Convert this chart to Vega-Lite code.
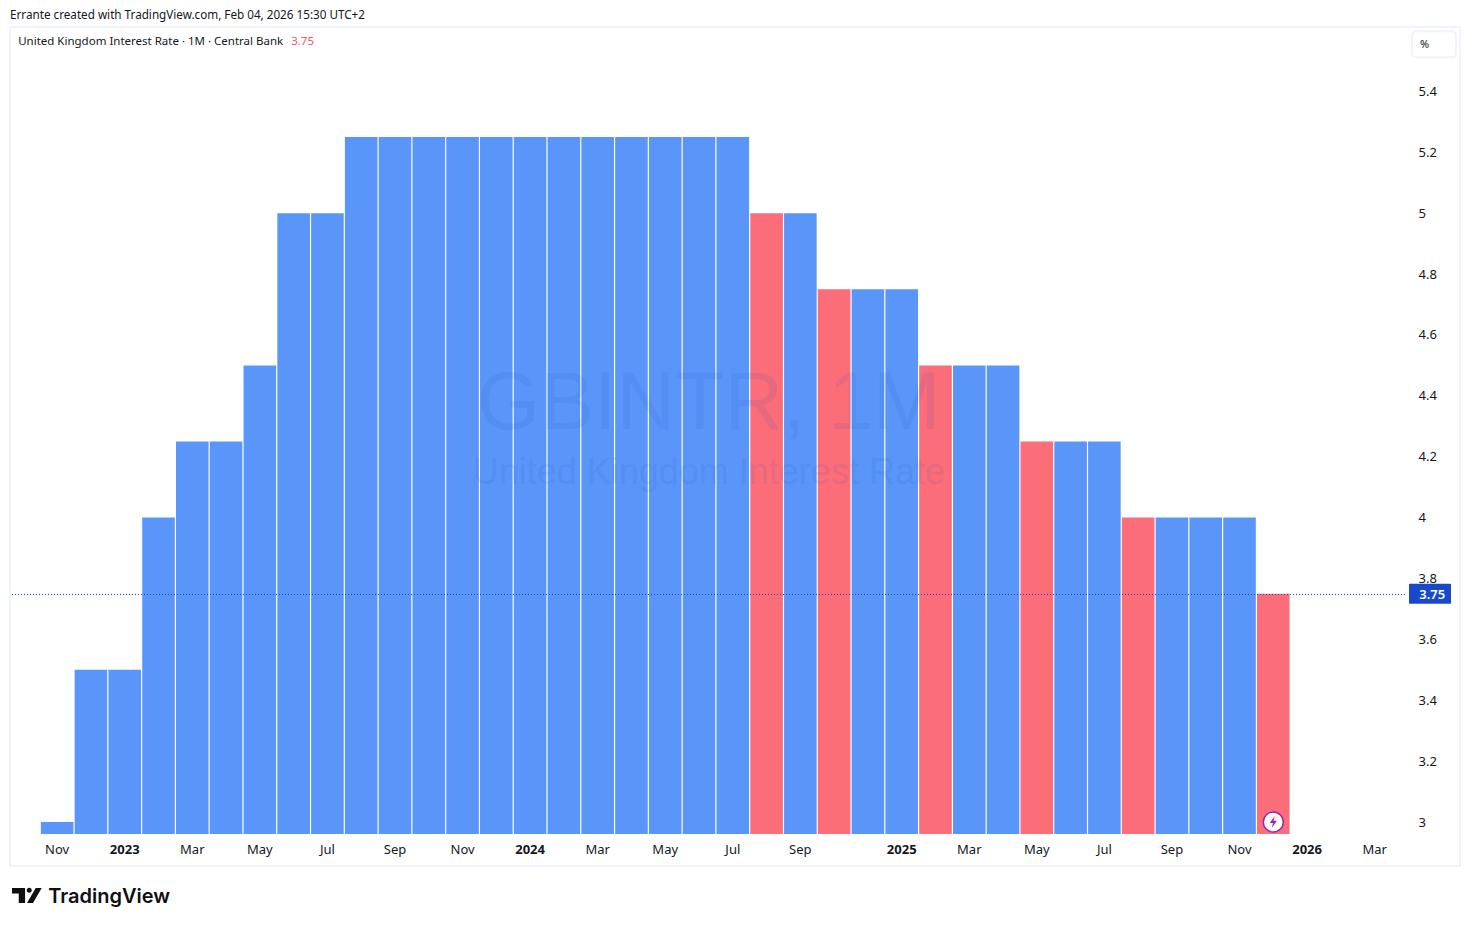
{
"$schema":"https://vega.github.io/schema/vega-lite/v6.json",
"width":1394,"height":807,
"autosize":{"type":"none"},
"padding":{"left":11,"top":27,"right":65,"bottom":92},
"background":"#ffffff",
"view":{"stroke":null},
"title":{"text":"Errante created with TradingView.com, Feb 04, 2026 15:30 UTC+2","anchor":"start","frame":"group","font":"Noto Sans","fontSize":11.7,"fontWeight":"normal","color":"#131722","dx":-1,"offset":4},
"layer":[
{"data":{"values":[{}]},"mark":{"type":"rect","fill":null,"stroke":"#f0f3fa","strokeWidth":2,"clip":false},
 "encoding":{"x":{"value":-1},"x2":{"value":1449},"y":{"value":0},"y2":{"value":839}}},
{"data":{"values":[
{"month":"2022-11","rate":3.0,"move":"hold"},
{"month":"2022-12","rate":3.5,"move":"hold"},
{"month":"2023-01","rate":3.5,"move":"hold"},
{"month":"2023-02","rate":4.0,"move":"hold"},
{"month":"2023-03","rate":4.25,"move":"hold"},
{"month":"2023-04","rate":4.25,"move":"hold"},
{"month":"2023-05","rate":4.5,"move":"hold"},
{"month":"2023-06","rate":5.0,"move":"hold"},
{"month":"2023-07","rate":5.0,"move":"hold"},
{"month":"2023-08","rate":5.25,"move":"hold"},
{"month":"2023-09","rate":5.25,"move":"hold"},
{"month":"2023-10","rate":5.25,"move":"hold"},
{"month":"2023-11","rate":5.25,"move":"hold"},
{"month":"2023-12","rate":5.25,"move":"hold"},
{"month":"2024-01","rate":5.25,"move":"hold"},
{"month":"2024-02","rate":5.25,"move":"hold"},
{"month":"2024-03","rate":5.25,"move":"hold"},
{"month":"2024-04","rate":5.25,"move":"hold"},
{"month":"2024-05","rate":5.25,"move":"hold"},
{"month":"2024-06","rate":5.25,"move":"hold"},
{"month":"2024-07","rate":5.25,"move":"hold"},
{"month":"2024-08","rate":5.0,"move":"cut"},
{"month":"2024-09","rate":5.0,"move":"hold"},
{"month":"2024-11","rate":4.75,"move":"cut"},
{"month":"2024-12","rate":4.75,"move":"hold"},
{"month":"2025-01","rate":4.75,"move":"hold"},
{"month":"2025-02","rate":4.5,"move":"cut"},
{"month":"2025-03","rate":4.5,"move":"hold"},
{"month":"2025-04","rate":4.5,"move":"hold"},
{"month":"2025-05","rate":4.25,"move":"cut"},
{"month":"2025-06","rate":4.25,"move":"hold"},
{"month":"2025-07","rate":4.25,"move":"hold"},
{"month":"2025-08","rate":4.0,"move":"cut"},
{"month":"2025-09","rate":4.0,"move":"hold"},
{"month":"2025-10","rate":4.0,"move":"hold"},
{"month":"2025-11","rate":4.0,"move":"hold"},
{"month":"2025-12","rate":3.75,"move":"cut"}
]},"mark":{"type":"bar","clip":true},
 "encoding":{
  "x":{"field":"month","type":"ordinal",
   "scale":{"domain":["2022-11","2022-12","2023-01","2023-02","2023-03","2023-04","2023-05","2023-06","2023-07","2023-08","2023-09","2023-10","2023-11","2023-12","2024-01","2024-02","2024-03","2024-04","2024-05","2024-06","2024-07","2024-08","2024-09","2024-11","2024-12","2025-01","2025-02","2025-03","2025-04","2025-05","2025-06","2025-07","2025-08","2025-09","2025-10","2025-11","2025-12","2026-01","2026-02","2026-03"],
    "paddingInner":0.035,"paddingOuter":0.65,"align":0.68},
   "axis":{"title":null,"orient":"bottom","ticks":false,"domain":false,"grid":false,"labelAngle":0,"labelPadding":9,"labelFont":"Noto Sans","labelFontSize":13,"labelColor":"#131722","labelOverlap":false,
    "values":["2022-11","2023-01","2023-03","2023-05","2023-07","2023-09","2023-11","2024-01","2024-03","2024-05","2024-07","2024-09","2025-01","2025-03","2025-05","2025-07","2025-09","2025-11","2026-01","2026-03"],
    "labelExpr":"slice(datum.value,5)=='01' ? slice(datum.value,0,4) : {'03':'Mar','05':'May','07':'Jul','09':'Sep','11':'Nov'}[slice(datum.value,5)]",
    "labelFontWeight":{"condition":{"test":"slice(datum.value,5)=='01'","value":"bold"},"value":"normal"}}},
  "y":{"field":"rate","type":"quantitative",
   "scale":{"domain":[2.9606,5.6117],"nice":false,"zero":false},
   "axis":{"title":null,"orient":"right","ticks":false,"domain":false,"grid":false,"labelPadding":13,"labelFont":"Noto Sans","labelFontSize":13,"labelColor":"#131722","format":"~g",
    "values":[3,3.2,3.4,3.6,3.8,4,4.2,4.4,4.6,4.8,5,5.2,5.4]}},
  "color":{"field":"move","type":"nominal","legend":null,"scale":{"domain":["hold","cut"],"range":["#5a95f9","#fb6d78"]}}
 }},
{"data":{"values":[{}]},"mark":{"type":"rule","color":"#1848cc","strokeWidth":1,"strokeDash":[1,2],"yOffset":0.8},
 "encoding":{"y":{"datum":3.75}}},
{"data":{"values":[{}]},"mark":{"type":"text","font":"Liberation Sans","fontSize":81,"color":"#2048d0","opacity":0.085,"align":"center","baseline":"middle","dx":-24},
 "encoding":{"x":{"datum":"2024-07","type":"ordinal"},"y":{"datum":4.37},"text":{"value":"GBINTR, 1M"}}},
{"data":{"values":[{}]},"mark":{"type":"text","font":"Liberation Sans","fontSize":36,"color":"#2048d0","opacity":0.085,"align":"center","baseline":"middle","dx":-24},
 "encoding":{"x":{"datum":"2024-07","type":"ordinal"},"y":{"datum":4.146},"text":{"value":"United Kingdom Interest Rate"}}},
{"data":{"values":[{}]},"mark":{"type":"rect","fill":"#1848cc","cornerRadius":1,"clip":false},
 "encoding":{"x":{"value":1398},"x2":{"value":1440},"y":{"datum":3.783},"y2":{"datum":3.717}}},
{"data":{"values":[{}]},"mark":{"type":"text","font":"Noto Sans","fontSize":13,"fontWeight":600,"color":"#ffffff","align":"center","baseline":"middle","dx":57.5,"dy":1},
 "encoding":{"x":{"datum":"2026-03","type":"ordinal"},"y":{"datum":3.75},"text":{"value":"3.75"}}},
{"data":{"values":[{}]},"mark":{"type":"rect","fill":"#ffffff","stroke":"#f0f3fa","strokeWidth":2,"cornerRadius":4,"clip":false},
 "encoding":{"x":{"value":1401},"x2":{"value":1445},"y":{"datum":5.598},"y2":{"datum":5.512}}},
{"data":{"values":[{}]},"mark":{"type":"text","font":"Noto Sans","fontSize":11,"color":"#131722","align":"center","baseline":"middle","dx":50},
 "encoding":{"x":{"datum":"2026-03","type":"ordinal"},"y":{"datum":5.552},"text":{"value":"%"}}},
{"data":{"values":[{}]},"mark":{"type":"text","font":"Noto Sans","fontSize":11.5,"color":"#131722","align":"left","baseline":"middle","dx":-39},
 "encoding":{"x":{"datum":"2022-11","type":"ordinal"},"y":{"datum":5.5616},"text":{"value":"United Kingdom Interest Rate · 1M · Central Bank"}}},
{"data":{"values":[{}]},"mark":{"type":"text","font":"Noto Sans","fontSize":11.5,"color":"#f7525f","align":"left","baseline":"middle","dx":234},
 "encoding":{"x":{"datum":"2022-11","type":"ordinal"},"y":{"datum":5.5616},"text":{"value":"3.75"}}},
{"data":{"values":[{}]},"mark":{"type":"point","filled":true,"fill":"#ffffff","stroke":"#9c27b0","strokeWidth":1.5,"opacity":1,"size":400,"shape":"circle"},
 "encoding":{"x":{"datum":"2025-12","type":"ordinal"},"y":{"datum":3.0}}},
{"data":{"values":[{}]},"mark":{"type":"point","filled":true,"fill":"#9c27b0","opacity":1,"size":144,"strokeWidth":0,"shape":"M0.25,-1 L-0.6,0.15 L-0.05,0.15 L-0.25,1 L0.6,-0.2 L0.05,-0.2 Z"},
 "encoding":{"x":{"datum":"2025-12","type":"ordinal"},"y":{"datum":3.0}}},
{"data":{"values":[{}]},"mark":{"type":"point","filled":true,"fill":"#0f0f0f","opacity":1,"size":900,"strokeWidth":0,"clip":false,"shape":"M-1,-0.53 L-0.13,-0.53 L-0.13,0.47 L-0.55,0.47 L-0.55,-0.17 L-1,-0.17 Z M-0.02,-0.38 A0.17,0.17 0 1 0 0.32,-0.38 A0.17,0.17 0 1 0 -0.02,-0.38 Z M0.58,-0.53 L0.98,-0.53 L0.4,0.47 L0,0.47 Z"},
 "encoding":{"x":{"value":16},"y":{"datum":2.757}}},
{"data":{"values":[{}]},"mark":{"type":"text","font":"Inter","fontSize":20,"fontWeight":600,"color":"#0f0f0f","align":"left","baseline":"middle","dx":-9},
 "encoding":{"x":{"datum":"2022-11","type":"ordinal"},"y":{"datum":2.754},"text":{"value":"TradingView"}}}
]
}
